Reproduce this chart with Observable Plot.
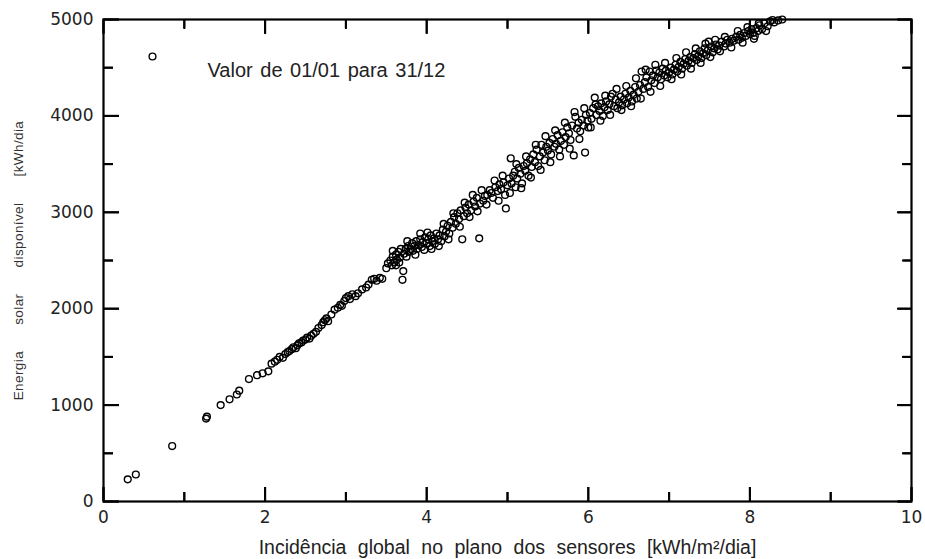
<!DOCTYPE html>
<html>
<head>
<meta charset="utf-8">
<script src="https://cdn.jsdelivr.net/npm/d3@7"></script>
<script src="https://cdn.jsdelivr.net/npm/@observablehq/plot@0.6"></script>
<style>
  html, body { margin: 0; padding: 0; background: #fff; }
</style>
</head>
<body>
<div id="chart"></div>
<script>
// Incidência global no plano dos sensores [kWh/m²/dia]
const irradiance = [
  0.30,0.40,0.85,1.27,1.28,1.45,1.56,1.65,1.68,1.80,
  1.90,1.97,2.04,2.08,2.12,2.15,2.18,2.22,2.25,2.28,
  2.30,2.33,2.35,2.38,2.40,2.42,2.45,2.47,2.50,2.52,
  2.55,2.57,2.60,2.63,2.66,2.70,2.72,2.74,2.76,2.78,
  2.82,2.86,2.90,2.93,2.95,2.98,3.00,3.03,3.05,3.08,
  3.12,3.15,3.20,3.25,3.28,3.32,3.35,3.38,3.42,3.45,
  3.50,3.52,3.55,3.57,3.58,3.60,3.62,3.63,3.65,3.67,
  3.68,3.70,3.71,3.72,3.74,3.75,3.77,3.78,3.80,3.82,
  3.83,3.85,3.87,3.88,3.90,3.92,3.94,3.95,3.97,3.98,
  4.00,4.02,4.04,4.05,4.07,4.09,4.10,4.12,4.14,4.16,
  4.18,4.20,4.22,4.24,4.26,4.28,4.30,4.32,4.34,4.36,
  4.38,4.40,4.42,4.44,4.46,4.48,4.50,4.52,4.55,4.58,
  4.60,4.62,4.65,4.66,4.70,4.72,4.75,4.78,4.80,4.82,
  4.85,4.88,4.90,4.92,4.95,4.97,4.98,5.00,5.02,5.04,
  5.05,5.07,5.09,5.10,5.12,5.14,5.16,5.18,5.20,5.22,
  5.24,5.26,5.28,5.30,5.32,5.34,5.36,5.38,5.40,5.42,
  5.44,5.46,5.48,5.50,5.52,5.54,5.56,5.58,5.60,5.62,
  5.64,5.66,5.68,5.70,5.72,5.74,5.76,5.78,5.80,5.82,
  5.84,5.86,5.88,5.90,5.92,5.94,5.96,5.97,5.99,6.00,
  6.02,6.04,6.06,6.08,6.10,6.12,6.14,6.16,6.18,6.20,
  6.22,6.24,6.26,6.28,6.30,6.32,6.34,6.36,6.38,6.40,
  6.42,6.44,6.46,6.48,6.50,6.52,6.54,6.56,6.58,6.60,
  6.62,6.64,6.66,6.68,6.70,6.72,6.74,6.76,6.78,6.80,
  6.82,6.84,6.86,6.88,6.90,6.92,6.94,6.96,6.98,7.00,
  7.02,7.04,7.06,7.08,7.10,7.12,7.14,7.16,7.18,7.20,
  7.22,7.24,7.26,7.28,7.30,7.32,7.34,7.36,7.38,7.40,
  7.42,7.44,7.46,7.48,7.49,7.52,7.54,7.56,7.58,7.60,
  7.62,7.65,7.68,7.70,7.72,7.75,7.78,7.80,7.83,7.86,
  7.88,7.90,7.93,7.95,7.98,8.00,8.02,8.04,8.06,8.08,
  8.10,8.12,8.15,8.18,8.22,8.25,8.30,8.35,8.40,
  3.58,3.62,3.66,3.76,3.86,3.92,4.01,4.06,4.15,4.21,
  4.27,4.33,4.41,4.47,4.53,4.57,4.63,4.68,4.74,4.84,
  4.89,4.94,5.03,5.11,5.17,5.23,5.29,5.35,5.41,5.47,
  5.53,5.59,5.65,5.71,5.77,5.83,5.89,5.95,6.03,6.09,
  6.15,6.21,6.27,6.35,6.41,6.47,6.53,6.59,6.65,6.71,
  6.77,6.83,6.89,6.95,7.03,7.09,7.15,7.21,7.27,7.33,
  7.39,7.45,7.51,7.57,7.63,7.69,7.77,7.85,7.91,7.97,
  8.05,8.11,8.20,8.28
];
// Energia solar disponível [kWh/dia]
const energy = [
  230,280,575,860,880,1000,1060,1110,1150,1270,
  1310,1330,1350,1430,1450,1470,1500,1490,1530,1550,
  1560,1580,1600,1590,1620,1640,1650,1670,1680,1700,
  1690,1720,1740,1760,1800,1830,1860,1880,1900,1870,
  1940,1990,2010,2040,2030,2080,2110,2130,2100,2150,
  2130,2160,2200,2220,2250,2300,2310,2290,2320,2310,
  2420,2470,2500,2450,2540,2480,2560,2510,2590,2530,
  2620,2300,2390,2570,2620,2540,2650,2590,2620,2680,
  2600,2650,2700,2620,2660,2720,2640,2690,2610,2740,
  2680,2720,2650,2760,2700,2730,2670,2780,2720,2760,
  2700,2820,2750,2800,2860,2780,2900,2840,2950,2880,
  2990,2930,3020,2720,2960,3050,2990,3080,3020,3110,
  3060,3150,2730,3090,3120,3170,3180,3230,3200,3150,
  3260,3220,3290,3240,3310,3180,3040,3280,3350,3560,
  3300,3380,3420,3260,3350,3460,3400,3300,3480,3430,
  3510,3380,3550,3470,3600,3520,3650,3480,3580,3700,
  3620,3540,3680,3640,3720,3600,3760,3680,3710,3800,
  3650,3740,3830,3700,3780,3880,3820,3750,3900,3590,
  3990,3870,3930,3840,3960,3900,3620,4010,3950,3880,
  4030,3970,4080,4190,4010,4100,4050,4130,4000,4090,
  4150,4060,4120,4200,4230,4100,4170,4080,4140,4200,
  4110,4170,4230,4130,4190,4260,4150,4220,4300,4180,
  4250,4320,4460,4280,4350,4400,4300,4460,4370,4420,
  4340,4470,4400,4450,4380,4490,4420,4470,4400,4450,
  4500,4430,4480,4530,4460,4510,4560,4490,4540,4590,
  4520,4570,4610,4550,4600,4640,4580,4620,4670,4600,
  4650,4700,4630,4680,4770,4720,4660,4700,4740,4690,
  4730,4770,4720,4750,4790,4760,4800,4780,4820,4790,
  4840,4810,4860,4830,4880,4850,4900,4860,4830,4910,
  4880,4940,4900,4960,4930,4980,4970,4990,5000,
  2600,2450,2480,2700,2560,2780,2790,2620,2650,2880,
  2720,2990,2850,3100,2950,3180,3010,3230,3080,3330,
  3120,3380,3200,3500,3250,3580,3360,3700,3440,3790,
  3520,3850,3580,3930,3660,4040,3760,4080,3880,4120,
  3950,4210,4010,4280,4060,4310,4100,4390,4180,4480,
  4250,4530,4310,4550,4380,4600,4430,4660,4490,4700,
  4550,4750,4610,4790,4670,4820,4710,4880,4760,4920,
  4800,4960,4880,4995
];

const xMajor = [0, 2, 4, 6, 8, 10];
const xMinor = [1, 3, 5, 7, 9];
const yMajor = [0, 1000, 2000, 3000, 4000, 5000];
const yMinor = [500, 1500, 2500, 3500, 4500];

const legendText = ["Valor de 01/01 para 31/12"];
const xLabel = ["Incidência global no plano dos sensores [kWh/m²/dia]"];
const yLabel = ["Energia solar disponível [kWh/dia"];

const data = irradiance.map((x, i) => ({x, y: energy[i]}));

const W = 925, H = 559;
const mTop = 19, mRight = 14, mBottom = 58, mLeft = 103;
const innerH = H - mTop - mBottom;
const innerW = W - mLeft - mRight;

const noText = () => "";

const chart = Plot.plot({
  width: W,
  height: H,
  marginTop: mTop,
  marginRight: mRight,
  marginBottom: mBottom,
  marginLeft: mLeft,
  style: {fontFamily: "DejaVu Sans", fontSize: "17px"},
  x: {domain: [0, 10], axis: null},
  y: {domain: [0, 5000], axis: null},
  marks: [
    // tick labels
    Plot.text(xMajor, {x: d => d, frameAnchor: "bottom", dy: 21, text: d => String(d), fill: "#222"}),
    Plot.text(yMajor, {y: d => d, frameAnchor: "left", dx: -10, textAnchor: "end", text: d => String(d), fill: "#222"}),
    Plot.dot(data, {x: "x", y: "y", r: 3.4, stroke: "black", strokeWidth: 1.4, fill: "none"}),
    // legend
    Plot.dot([0], {frameAnchor: "top-left", dx: 49, dy: 37, r: 3.4, stroke: "black", strokeWidth: 1.4, fill: "none"}),
    Plot.text(legendText, {text: d => d, frameAnchor: "top-left", dx: 104, dy: 43, textAnchor: "start",
      fontFamily: "Liberation Sans, Arial, sans-serif", fontSize: 20, fill: "#222"}),
    // axis labels
    Plot.text(xLabel, {text: d => d, frameAnchor: "bottom", dy: 52, fontFamily: "Liberation Sans, Arial, sans-serif",
      fontSize: 19.5, fill: "#222"}),
    Plot.text(yLabel, {text: d => d, frameAnchor: "left", dx: -85, rotate: -90, textAnchor: "middle",
      fontFamily: "Liberation Sans, Arial, sans-serif", fontSize: 13.5, fill: "#333"}),
    // inward ticks as thin rects anchored to the frame (bottom, top, left, right)
    Plot.tickX(xMajor, {x: d => d, insetTop: innerH - 14, stroke: "#000", strokeWidth: 2}),
    Plot.tickX(xMinor, {x: d => d, insetTop: innerH - 9, stroke: "#000", strokeWidth: 2}),
    Plot.tickX(xMajor, {x: d => d, insetBottom: innerH - 14, stroke: "#000", strokeWidth: 2}),
    Plot.tickX(xMinor, {x: d => d, insetBottom: innerH - 9, stroke: "#000", strokeWidth: 2}),
    Plot.tickY(yMajor, {y: d => d, insetRight: innerW - 16, stroke: "#000", strokeWidth: 2}),
    Plot.tickY(yMinor, {y: d => d, insetRight: innerW - 10, stroke: "#000", strokeWidth: 2}),
    Plot.tickY(yMajor, {y: d => d, insetLeft: innerW - 14, stroke: "#000", strokeWidth: 2}),
    Plot.tickY(yMinor, {y: d => d, insetLeft: innerW - 9, stroke: "#000", strokeWidth: 2}),
    // same ticks through Plot's axis marks (negative size = inward)
    Plot.axisX({anchor: "bottom", ticks: xMajor, tickSize: -14, tickFormat: noText, label: null, stroke: "#000", strokeWidth: 2}),
    Plot.axisX({anchor: "bottom", ticks: xMinor, tickSize: -9, tickFormat: noText, label: null, stroke: "#000", strokeWidth: 2}),
    Plot.axisX({anchor: "top", ticks: xMajor, tickSize: -14, tickFormat: noText, label: null, stroke: "#000", strokeWidth: 2}),
    Plot.axisX({anchor: "top", ticks: xMinor, tickSize: -9, tickFormat: noText, label: null, stroke: "#000", strokeWidth: 2}),
    Plot.axisY({anchor: "left", ticks: yMajor, tickSize: -16, tickFormat: noText, label: null, stroke: "#000", strokeWidth: 2}),
    Plot.axisY({anchor: "left", ticks: yMinor, tickSize: -10, tickFormat: noText, label: null, stroke: "#000", strokeWidth: 2}),
    Plot.axisY({anchor: "right", ticks: yMajor, tickSize: -14, tickFormat: noText, label: null, stroke: "#000", strokeWidth: 2}),
    Plot.axisY({anchor: "right", ticks: yMinor, tickSize: -9, tickFormat: noText, label: null, stroke: "#000", strokeWidth: 2}),
    Plot.frame({stroke: "black", strokeWidth: 2.2})
  ]
});

d3.select(chart).selectAll("text").each(function() {
  const t = this.textContent;
  if (t === legendText[0]) d3.select(this).style("word-spacing", "2px");
  if (t === xLabel[0]) d3.select(this).style("word-spacing", "6px");
  if (t === yLabel[0]) d3.select(this).style("word-spacing", "22px").style("letter-spacing", "0.4px");
});

document.getElementById("chart").appendChild(chart);
</script>
</body>
</html>
